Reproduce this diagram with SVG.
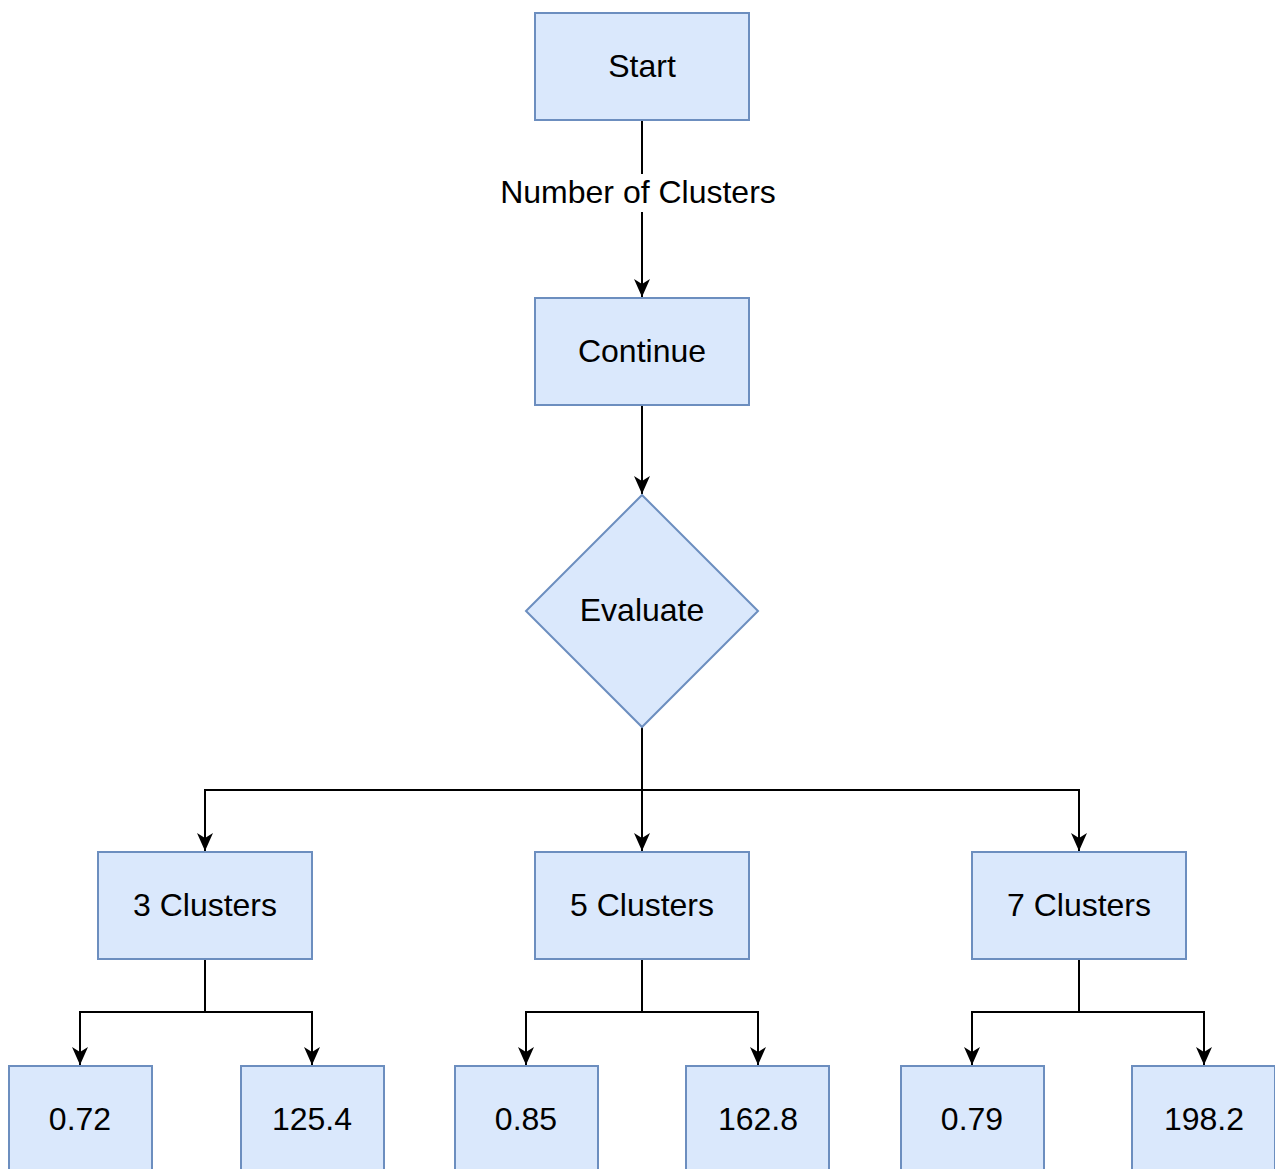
<svg xmlns="http://www.w3.org/2000/svg" width="1275" height="1169" viewBox="0 0 1275 1169">
<style>
.n{fill:#dae8fc;stroke:#6c8ebf;stroke-width:2}
.t{font-family:"Liberation Sans",Arial,sans-serif;font-size:32px;fill:#000;text-anchor:middle}
.e{fill:none;stroke:#000;stroke-width:2}
</style>
<defs>
<marker id="arr" viewBox="0 0 20 20" refX="18" refY="10" markerWidth="20" markerHeight="20" markerUnits="userSpaceOnUse" orient="auto">
<path d="M0,2 L18,10 L0,18 L5,10 Z" fill="#000"/>
</marker>
</defs>
<rect width="1275" height="1169" fill="#fff"/>
<g id="connectors">
<path class="e" d="M642,120 V297" marker-end="url(#arr)"/>
<rect x="499" y="174" width="280" height="38" fill="#fff"/>
<text class="t" x="638" y="203">Number of Clusters</text>
<path class="e" d="M642,405 V494" marker-end="url(#arr)"/>
<path class="e" d="M642,727 V851" marker-end="url(#arr)"/>
<path class="e" d="M642,790 H205 V851" marker-end="url(#arr)"/>
<path class="e" d="M642,790 H1079 V851" marker-end="url(#arr)"/>
<path class="e" d="M205,959 V1012 H80 V1065" marker-end="url(#arr)"/>
<path class="e" d="M205,1012 H312 V1065" marker-end="url(#arr)"/>
<path class="e" d="M642,959 V1012 H526 V1065" marker-end="url(#arr)"/>
<path class="e" d="M642,1012 H758 V1065" marker-end="url(#arr)"/>
<path class="e" d="M1079,959 V1012 H972 V1065" marker-end="url(#arr)"/>
<path class="e" d="M1079,1012 H1204 V1065" marker-end="url(#arr)"/>
</g>
<g id="start"><rect class="n" x="535" y="13" width="214" height="107"/><text class="t" x="642" y="77">Start</text></g>
<g id="continue"><rect class="n" x="535" y="298" width="214" height="107"/><text class="t" x="642" y="362">Continue</text></g>
<g id="evaluate"><polygon class="n" points="642,495 758,611 642,727 526,611"/><text class="t" x="642" y="621">Evaluate</text></g>
<g id="c3"><rect class="n" x="98" y="852" width="214" height="107"/><text class="t" x="205" y="916">3 Clusters</text></g>
<g id="c5"><rect class="n" x="535" y="852" width="214" height="107"/><text class="t" x="642" y="916">5 Clusters</text></g>
<g id="c7"><rect class="n" x="972" y="852" width="214" height="107"/><text class="t" x="1079" y="916">7 Clusters</text></g>
<g id="v072"><rect class="n" x="9" y="1066" width="143" height="107"/><text class="t" x="80" y="1130">0.72</text></g>
<g id="v1254"><rect class="n" x="241" y="1066" width="143" height="107"/><text class="t" x="312" y="1130">125.4</text></g>
<g id="v085"><rect class="n" x="455" y="1066" width="143" height="107"/><text class="t" x="526" y="1130">0.85</text></g>
<g id="v1628"><rect class="n" x="686" y="1066" width="143" height="107"/><text class="t" x="758" y="1130">162.8</text></g>
<g id="v079"><rect class="n" x="901" y="1066" width="143" height="107"/><text class="t" x="972" y="1130">0.79</text></g>
<g id="v1982"><rect class="n" x="1132" y="1066" width="143" height="107"/><text class="t" x="1204" y="1130">198.2</text></g>
</svg>
